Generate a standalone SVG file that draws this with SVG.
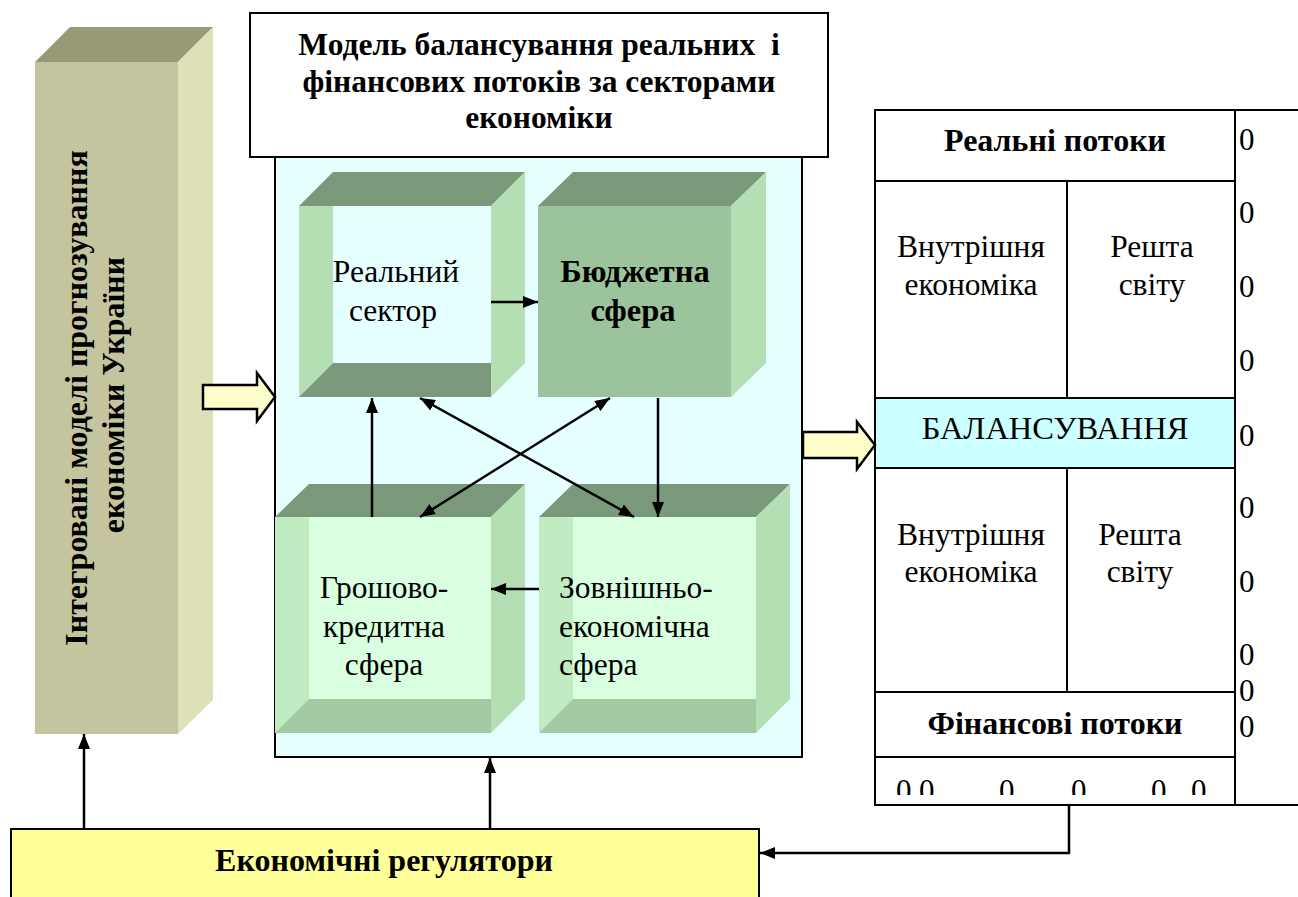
<svg xmlns="http://www.w3.org/2000/svg" width="1298" height="897" viewBox="0 0 1298 897" font-family="'Liberation Serif', 'DejaVu Serif', serif">
<style>
  text { font-family: 'Liberation Serif', 'DejaVu Serif', serif; fill: #000; }
  .b { font-weight: bold; }
  .r { font-size: 31.5px; }
  .ln { stroke: #000; stroke-width: 2.5; fill: none; }
  .box { stroke: #000; stroke-width: 2; }
  .hollow { fill: #ffffcc; stroke: #000; stroke-width: 2.5; stroke-linejoin: miter; }
  .ctop { fill: #7a997a; }
  .cside { fill: #b3dfb3; }
</style>
<defs>
  <marker id="ah" viewBox="0 0 15 12" refX="15" refY="6" markerWidth="15" markerHeight="12" markerUnits="userSpaceOnUse" orient="auto-start-reverse">
    <path d="M0,0 L15,6 L0,12 Z" fill="#000"/>
  </marker>
  <clipPath id="zclip"><rect x="876" y="758" width="358" height="37"/></clipPath>
</defs>

<!-- Left pillar -->
<g id="pillar">
  <polygon points="35,62 178,62 213,27 70,27" fill="#999977"/>
  <polygon points="178,62 213,27 213,700 178,734" fill="#e0e0b8"/>
  <rect x="35" y="62" width="143" height="672" fill="#c4c49f"/>
  <text class="b" font-size="32" text-anchor="middle" transform="translate(87,398) rotate(-90)">Інтегровані моделі прогнозування</text>
  <text class="b" font-size="32" text-anchor="middle" transform="translate(124,395) rotate(-90)">економіки України</text>
</g>

<!-- Title box -->
<g id="title">
  <rect x="250" y="13" width="578" height="144" fill="#fff" class="box"/>
  <text class="b" font-size="31.5" text-anchor="middle" x="539" y="55" xml:space="preserve">Модель балансування реальних  і</text>
  <text class="b" font-size="31.5" text-anchor="middle" x="539" y="92">фінансових потоків за секторами</text>
  <text class="b" font-size="31.5" text-anchor="middle" x="539" y="128">економіки</text>
</g>

<!-- Container -->
<g id="container">
  <rect x="275" y="157" width="527" height="600" fill="#e6ffff" class="box"/>
</g>

<!-- Cube 1 -->
<g id="real-sector">
  <polygon class="ctop" points="299,206 491,206 525,172 333,172"/>
  <polygon class="cside" points="491,206 525,172 525,363 491,397"/>
  <rect x="299" y="206" width="192" height="191" fill="#e6ffff"/>
  <polygon points="299,206 333,206 333,363 299,397" fill="#b3dfb3"/>
  <polygon points="333,363 491,363 491,397 299,397" fill="#7a997a"/>
  <text class="r" text-anchor="middle" x="396" y="282">Реальний</text>
  <text class="r" text-anchor="middle" x="393" y="321">сектор</text>
</g>

<!-- Cube 2 -->
<g id="budget">
  <polygon class="ctop" points="538,206 731,206 766,172 573,172"/>
  <polygon class="cside" points="731,206 766,172 766,363 731,397"/>
  <rect x="538" y="206" width="193" height="191" fill="#9cc49c"/>
  <text class="b" font-size="32.5" text-anchor="middle" x="635" y="282">Бюджетна</text>
  <text class="b" font-size="32.5" text-anchor="middle" x="633" y="321">сфера</text>
</g>

<!-- Cube 3 -->
<g id="monetary">
  <polygon class="ctop" points="275,517 491,517 525,484 309,484"/>
  <polygon class="cside" points="491,517 525,484 525,699 491,733"/>
  <rect x="275" y="517" width="216" height="216" fill="#d9ffe0"/>
  <polygon points="275,517 309,517 309,699 275,733" fill="#c1ebc1"/>
  <polygon points="309,699 491,699 491,733 275,733" fill="#a3c9a3"/>
  <text class="r" text-anchor="middle" x="384" y="598">Грошово-</text>
  <text class="r" text-anchor="middle" x="384" y="637">кредитна</text>
  <text class="r" text-anchor="middle" x="384" y="675">сфера</text>
</g>

<!-- Cube 4 -->
<g id="foreign">
  <polygon class="ctop" points="539,517 756,517 790,484 573,484"/>
  <polygon class="cside" points="756,517 790,484 790,699 756,733"/>
  <rect x="539" y="517" width="217" height="216" fill="#d9ffe0"/>
  <polygon points="539,517 573,517 573,699 539,733" fill="#c1ebc1"/>
  <polygon points="573,699 756,699 756,733 539,733" fill="#a3c9a3"/>
  <text class="r" x="559" y="598">Зовнішньо-</text>
  <text class="r" x="559" y="637">економічна</text>
  <text class="r" x="559" y="675">сфера</text>
</g>

<!-- Right table -->
<g id="table">
  <rect x="875" y="110" width="360" height="695" fill="#fff" class="box"/>
  <rect x="875" y="398" width="360" height="70" fill="#ccffff" class="box"/>
  <line x1="875" y1="181" x2="1235" y2="181" class="box"/>
  <line x1="1067" y1="181" x2="1067" y2="398" class="box"/>
  <line x1="1067" y1="468" x2="1067" y2="692" class="box"/>
  <line x1="875" y1="692" x2="1235" y2="692" class="box"/>
  <line x1="875" y1="757" x2="1235" y2="757" class="box"/>
  <line x1="1235" y1="110" x2="1298" y2="110" class="box"/>
  <line x1="1235" y1="805" x2="1298" y2="805" class="box"/>
  <text class="b" font-size="32" text-anchor="middle" x="1055" y="151">Реальні потоки</text>
  <text class="r" text-anchor="middle" x="971" y="257">Внутрішня</text>
  <text class="r" text-anchor="middle" x="971" y="295">економіка</text>
  <text class="r" text-anchor="middle" x="1152" y="257">Решта</text>
  <text class="r" text-anchor="middle" x="1152" y="295">світу</text>
  <text font-size="32.5" text-anchor="middle" x="1055" y="439">БАЛАНСУВАННЯ</text>
  <text class="r" text-anchor="middle" x="971" y="545">Внутрішня</text>
  <text class="r" text-anchor="middle" x="971" y="582">економіка</text>
  <text class="r" text-anchor="middle" x="1140" y="545">Решта</text>
  <text class="r" text-anchor="middle" x="1140" y="582">світу</text>
  <text class="b" font-size="32" text-anchor="middle" x="1055" y="734">Фінансові потоки</text>
  <g clip-path="url(#zclip)">
    <text font-size="31" x="896" y="801">0</text>
    <text font-size="31" x="919" y="801">0</text>
    <text font-size="31" x="999" y="801">0</text>
    <text font-size="31" x="1071" y="801">0</text>
    <text font-size="31" x="1151" y="801">0</text>
    <text font-size="31" x="1191" y="801">0</text>
  </g>
</g>

<!-- Right zero column -->
<g id="zero-column">
  <text font-size="31" x="1239" y="150">0</text>
  <text font-size="31" x="1239" y="223">0</text>
  <text font-size="31" x="1239" y="297">0</text>
  <text font-size="31" x="1239" y="371">0</text>
  <text font-size="31" x="1239" y="446">0</text>
  <text font-size="31" x="1239" y="518">0</text>
  <text font-size="31" x="1239" y="592">0</text>
  <text font-size="31" x="1239" y="665">0</text>
  <text font-size="31" x="1239" y="701">0</text>
  <text font-size="31" x="1239" y="737">0</text>
</g>

<!-- Regulators box -->
<g id="regulators">
  <rect x="11" y="829" width="748" height="80" fill="#ffff99" class="box"/>
  <text class="b" font-size="32" text-anchor="middle" x="384" y="871">Економічні регулятори</text>
</g>

<!-- Connectors -->
<g id="connectors">
  <polygon class="hollow" points="203,385 257,385 257,373 275,397 257,421 257,409 203,409"/>
  <polygon class="hollow" points="803,432 857,432 857,422 875,445 857,469 857,458 803,458"/>
  <line class="ln" x1="491" y1="302" x2="538" y2="302" marker-end="url(#ah)"/>
  <line class="ln" x1="372" y1="517" x2="372" y2="398" marker-end="url(#ah)"/>
  <line class="ln" x1="658" y1="398" x2="658" y2="517" marker-end="url(#ah)"/>
  <line class="ln" x1="539" y1="589" x2="491" y2="589" marker-end="url(#ah)"/>
  <line class="ln" x1="420" y1="398" x2="634" y2="517" marker-start="url(#ah)" marker-end="url(#ah)"/>
  <line class="ln" x1="610" y1="398" x2="420" y2="517" marker-start="url(#ah)" marker-end="url(#ah)"/>
  <line class="ln" x1="84" y1="829" x2="84" y2="734" marker-end="url(#ah)"/>
  <line class="ln" x1="490" y1="829" x2="490" y2="758" marker-end="url(#ah)"/>
  <polyline class="ln" points="1069,806 1069,853 760,853" marker-end="url(#ah)"/>
</g>
</svg>
